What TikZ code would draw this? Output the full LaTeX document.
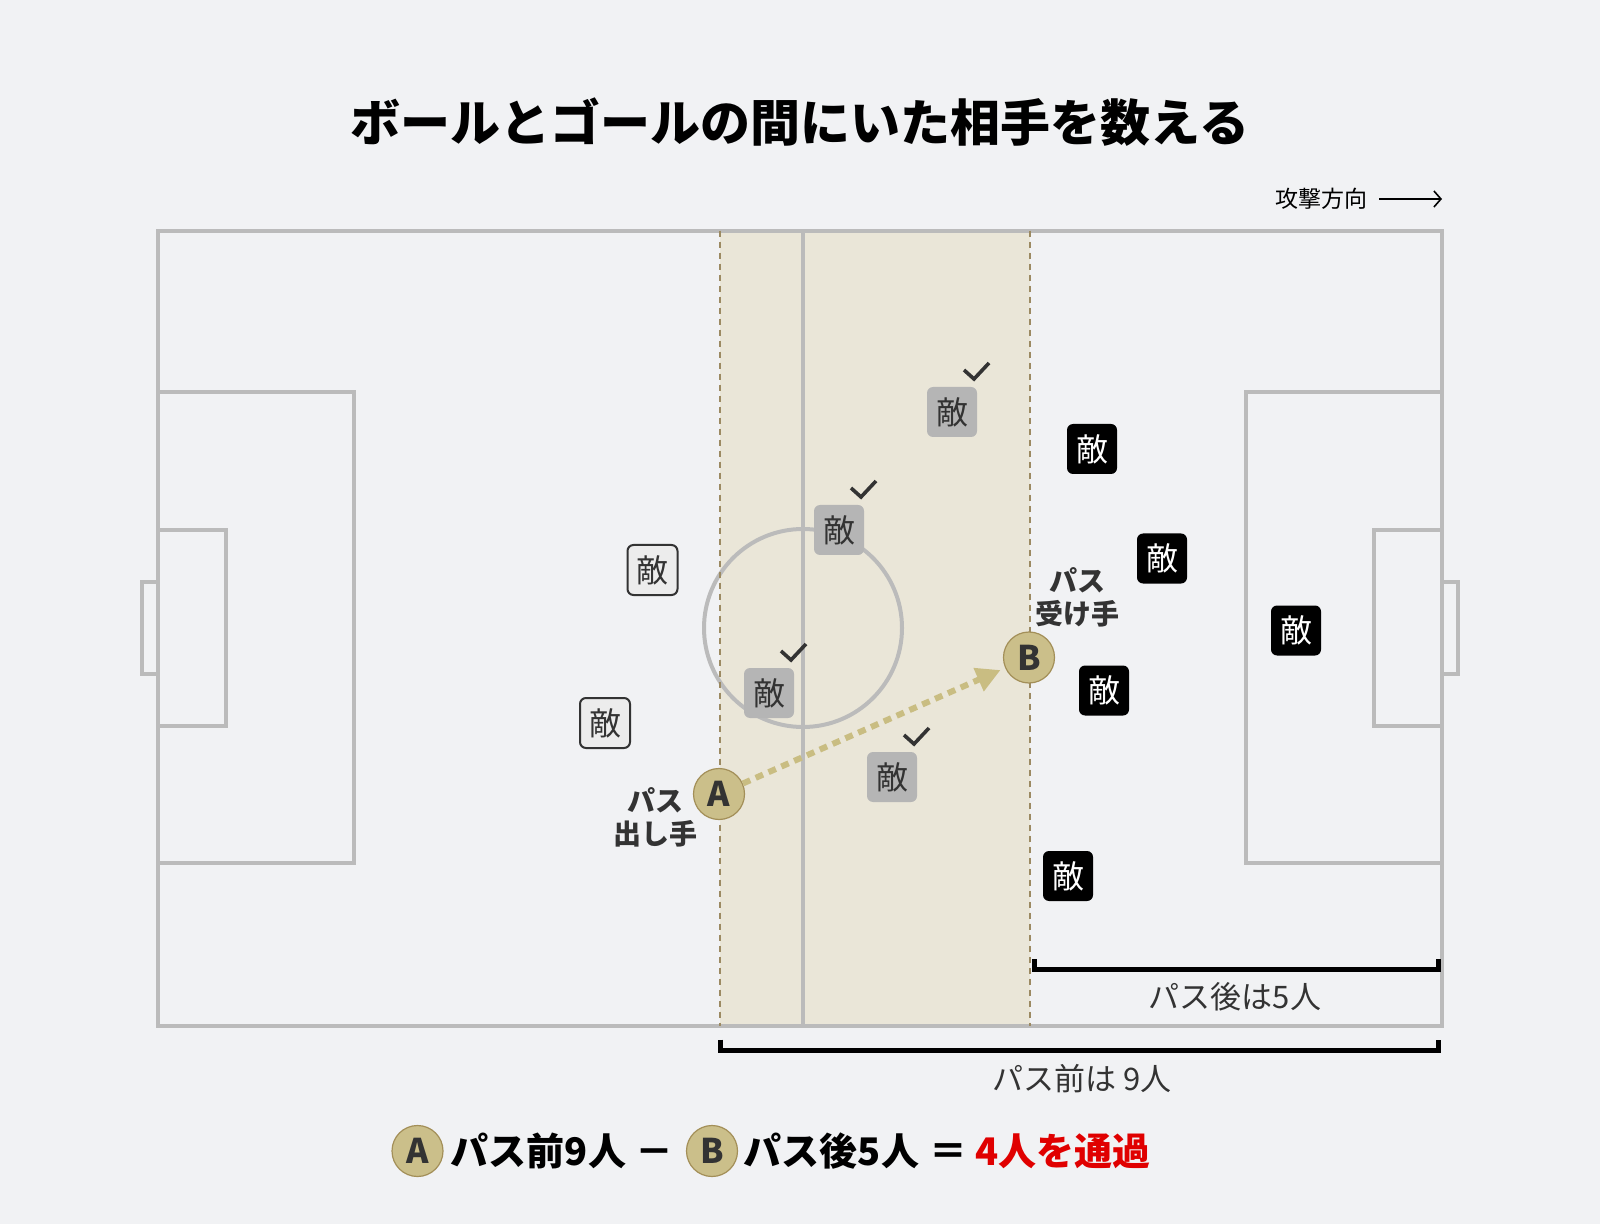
\documentclass[tikz,border=0pt]{standalone}
\usepackage{fontspec}
\setmainfont{Noto Sans CJK JP}
\usepackage{tikz}
\usetikzlibrary{arrows.meta}

\definecolor{bgcol}{HTML}{F1F2F4}
\definecolor{bandcol}{HTML}{EAE6D8}
\definecolor{bandline}{HTML}{9C8A62}
\definecolor{fldline}{HTML}{BBBBBB}
\definecolor{oppgray}{HTML}{B5B5B5}
\definecolor{oppwhite}{HTML}{ECECEC}
\definecolor{txtdark}{HTML}{333333}
\definecolor{plyrfill}{HTML}{CBBF8A}
\definecolor{plyredge}{HTML}{A38F58}
\definecolor{passcol}{HTML}{C9BD82}
\definecolor{redtxt}{HTML}{E00000}

\begin{document}
\begin{tikzpicture}[x=0.5pt,y=-0.5pt,
  fld/.style={draw=fldline,line width=2pt},
  bandedge/.style={draw=bandline,line width=0.7pt,dash pattern=on 3pt off 2.5pt},
  opp/.style={rectangle,rounded corners=3pt,minimum size=25pt,inner sep=0pt,font=\fontsize{16}{16}\selectfont},
  oppin/.style={opp,fill=oppgray,text=txtdark},
  oppback/.style={opp,fill=oppwhite,draw=txtdark,line width=1pt,text=txtdark},
  oppout/.style={opp,fill=black,text=white},
  chk/.style={draw=txtdark,line width=1.8pt},
  plyr/.style={circle,fill=plyrfill,draw=plyredge,line width=0.6pt,minimum size=25.5pt,inner sep=0pt,text=txtdark,font=\bfseries\fontsize{17}{17}\selectfont},
  plyrlbl/.style={align=center,text=txtdark,font=\bfseries\fontsize{14}{16.5}\selectfont},
  pass/.style={draw=passcol,line width=3pt,dash pattern=on 4pt off 3pt,-{Triangle[length=12pt,width=12pt,fill=passcol]},shorten >=2.5pt},
  brk/.style={draw=black,line width=2.5pt},
  brklbl/.style={text=txtdark,font=\fontsize{15.5}{15.5}\selectfont},
  eqn/.style={font=\bfseries\fontsize{19}{19}\selectfont}]
\useasboundingbox[fill=bgcol] (0,0) rectangle (1600,1224);

\node[font=\bfseries\fontsize{25}{25}\selectfont] (title) at (800,122) {ボールとゴールの間にいた相手を数える};

\node[font=\fontsize{11.5}{11.5}\selectfont] (dir) at (1321,199) {攻撃方向};
\coordinate (dirend) at (1442,199);
\draw[line width=0.8pt,-{Straight Barb[length=3.5pt,width=8pt]}] ([xshift=2.5pt]dir.east) -- (dirend);

% field
\fill[bandcol] (720,230.6) rectangle (1030,1025.5);
\draw[fld] (158,230.6) rectangle (1442,1025.5);
\draw[fld] (158,392) rectangle (354,863);
\draw[fld] (158,530) rectangle (226,726);
\draw[fld] (158,582) -- (142,582) -- (142,674) -- (158,674);
\draw[fld] (1442,392) rectangle (1246,863);
\draw[fld] (1442,530) rectangle (1374,726);
\draw[fld] (1442,582) -- (1458,582) -- (1458,674) -- (1442,674);
\draw[fld] (803,230.6) -- (803,1025.5);
\draw[fld] (803,628) circle[radius=99];
\draw[bandedge] (720,230.6) -- (720,1025.5);
\draw[bandedge] (1030,230.6) -- (1030,1025.5);

% opponents
\foreach \n/\x/\y in {1/952/412,2/839/530,3/769/693,4/892/777} {
  \node[oppin] (p\n) at (\x,\y) {敵};
  \draw[chk] ([shift={(12,-42)}]p\n.center) -- ++(10,9) -- ++(15,-16);
}
\foreach \n/\x/\y in {1/652.5/570,2/605/723} {
  \node[oppback] (h\n) at (\x,\y) {敵};
}
\foreach \n/\x/\y in {1/1092/449,2/1162/558.5,3/1296/630.5,4/1104/690.5,5/1068/876} {
  \node[oppout] (r\n) at (\x,\y) {敵};
}

% players
\node[plyr] (A) at (719,794) {A};
\node[plyr] (B) at (1029,657.5) {B};
\draw[pass] (A) -- (B);
\node[plyrlbl] (Albl) at (655,817) {パス\\出し手};
\node[plyrlbl] (Blbl) at (1077,597) {パス\\受け手};

% brackets
\draw[brk] (1034,959) |- (1438,969.5) -- (1438,959);
\node[brklbl] (after) at (1235,997) {パス後は5人};
\draw[brk] (720,1039.5) |- (1438,1050) -- (1438,1039.5);
\node[brklbl] (before) at (1082,1079) {パス前は 9人};

% summary
\node[plyr] (fA) at (417.5,1151) {A};
\node[eqn] (fAt) at (538.5,1151) {パス前9人};
\node[eqn] (fmin) at (654,1157) {－};
\node[plyr] (fB) at (712,1151) {B};
\node[eqn] (fBt) at (831.5,1151) {パス後5人};
\node[eqn] (feq) at (948,1155) {＝};
\node[eqn,text=redtxt] (fres) at (1063,1151) {4人を通過};
\end{tikzpicture}
\end{document}
